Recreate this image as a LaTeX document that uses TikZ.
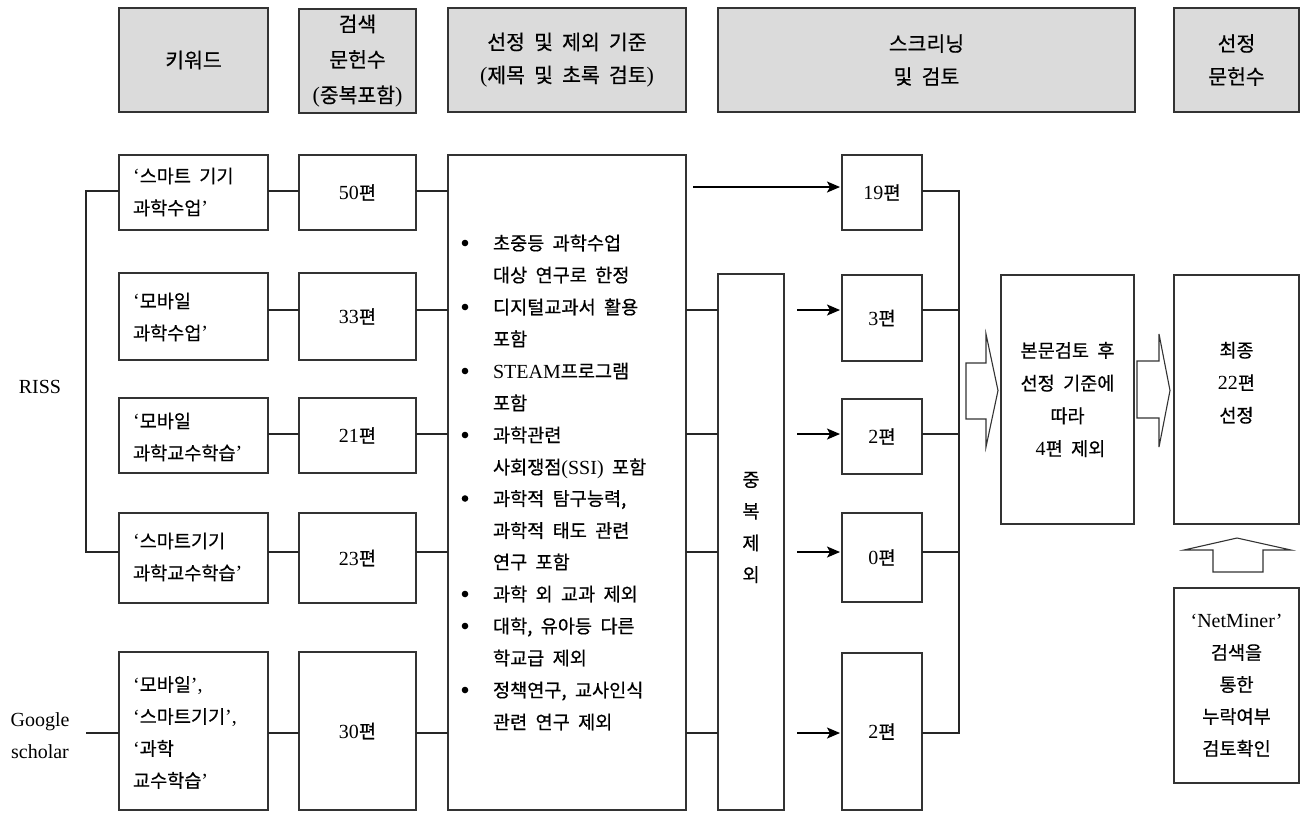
\documentclass[tikz,border=0pt]{standalone}
\usepackage{fontspec}
\setmainfont{Liberation Serif}
\newfontfamily\krf{Noto Sans CJK KR}[Scale=0.93,WordSpace=2,FakeBold=0.5]
\newcommand\hg[1]{{\krf #1}}
\usetikzlibrary{arrows.meta,calc}
\begin{document}
\begin{tikzpicture}[x=1pt,y=-1pt,
  box/.style={draw=black!80, line width=1.1pt, inner sep=0pt, outer sep=0pt, align=center, font=\fontsize{20}{32}\selectfont},
  head/.style={box, fill=black!14, font=\fontsize{22}{33}\selectfont},
  txt/.style={inner sep=0pt, outer sep=0pt, font=\fontsize{20}{32}\selectfont},
  conn/.style={draw=black!85, line width=1.1pt},
  arr/.style={draw=black, line width=1.6pt, shorten >=2pt, -{Stealth[length=13pt,width=11pt,inset=3pt]}},
  hollow/.style={draw=black!80, line width=1.1pt, fill=white, line join=miter},
  bullet/.style={fill=black}
]
\useasboundingbox (0,0) rectangle (1300,812);

% header row
\node[head, minimum width=149, minimum height=104] (hA) at (193.5,60) {\hg{키워드}};
\node[head, minimum width=117, minimum height=104, font=\fontsize{22}{35.5}\selectfont] (hB) at (357.5,61) {\hg{검색}\\\hg{문헌수}\\(\hg{중복포함})};
\node[head, minimum width=238, minimum height=104] (hC) at (567,60) {\hg{선정 및 제외 기준}\\(\hg{제목 및 초록 검토})};
\node[head, minimum width=417, minimum height=104] (hD) at (926.5,60) {\hg{스크리닝}\\\hg{및 검토}};
\node[head, minimum width=125, minimum height=104] (hE) at (1236.5,60) {\hg{선정}\\\hg{문헌수}};

% keyword boxes
\node[box, minimum width=149, minimum height=75]  (k1) at (193.5,192.5) {};
\node[box, minimum width=149, minimum height=87]  (k2) at (193.5,316.5) {};
\node[box, minimum width=149, minimum height=75]  (k3) at (193.5,435.5) {};
\node[box, minimum width=149, minimum height=90]  (k4) at (193.5,558) {};
\node[box, minimum width=149, minimum height=158] (k5) at (193.5,731) {};
\node[txt, anchor=west, align=left] (k1t) at (133,192) {‘\hg{스마트 기기}\\\hg{과학수업}’};
\node[txt, anchor=west, align=left] (k2t) at (133,317) {‘\hg{모바일}\\\hg{과학수업}’};
\node[txt, anchor=west, align=left] (k3t) at (133,437) {‘\hg{모바일}\\\hg{과학교수학습}’};
\node[txt, anchor=west, align=left] (k4t) at (133,557) {‘\hg{스마트기기}\\\hg{과학교수학습}’};
\node[txt, anchor=west, align=left] (k5t) at (133,732.5) {‘\hg{모바일}’,\\‘\hg{스마트기기}’,\\‘\hg{과학}\\\hg{교수학습}’};

% count boxes
\node[box, minimum width=117, minimum height=75]  (n1) at (357.5,192.5) {50\hg{편}};
\node[box, minimum width=117, minimum height=87]  (n2) at (357.5,316.5) {33\hg{편}};
\node[box, minimum width=117, minimum height=75]  (n3) at (357.5,435.5) {21\hg{편}};
\node[box, minimum width=117, minimum height=90]  (n4) at (357.5,558) {23\hg{편}};
\node[box, minimum width=117, minimum height=158] (n5) at (357.5,731) {30\hg{편}};

% sources
\node[txt] (riss) at (40,387) {RISS};
\node[txt, align=center] (gs) at (40,736) {Google\\scholar};

% criteria box
\node[box, minimum width=238, minimum height=655] (crit) at (567,482.5) {};
\foreach \yy in {243,307,371,435,498.5,594,626,690}
  \fill[bullet] (465,\yy) circle (3.3);
\node[txt, anchor=base west] at (493,250)   {\hg{초중등 과학수업}};
\node[txt, anchor=base west] at (493,282)   {\hg{대상 연구로 한정}};
\node[txt, anchor=base west] at (493,314)   {\hg{디지털교과서 활용}};
\node[txt, anchor=base west] at (493,346)   {\hg{포함}};
\node[txt, anchor=base west] at (493,378)   {STEAM\hg{프로그램}};
\node[txt, anchor=base west] at (493,410)   {\hg{포함}};
\node[txt, anchor=base west] at (493,442)   {\hg{과학관련}};
\node[txt, anchor=base west] at (493,474)   {\hg{사회쟁점}(SSI)\hg{ 포함}};
\node[txt, anchor=base west] at (493,505.5) {\hg{과학적 탐구능력,}};
\node[txt, anchor=base west] at (493,537.5) {\hg{과학적 태도 관련}};
\node[txt, anchor=base west] at (493,569)   {\hg{연구 포함}};
\node[txt, anchor=base west] at (493,601)   {\hg{과학 외 교과 제외}};
\node[txt, anchor=base west] at (493,633)   {\hg{대학, 유아등 다른}};
\node[txt, anchor=base west] at (493,665)   {\hg{학교급 제외}};
\node[txt, anchor=base west] at (493,697)   {\hg{정책연구, 교사인식}};
\node[txt, anchor=base west] at (493,729)   {\hg{관련 연구 제외}};

% dedup box
\node[box, minimum width=66, minimum height=536] (dedup) at (751,542) {};
\node[txt, align=center, font=\fontsize{20}{31.7}\selectfont] (dedupt) at (751,527.5) {\hg{중}\\\hg{복}\\\hg{제}\\\hg{외}};

% result boxes
\node[box, minimum width=80, minimum height=75]  (r1) at (882,192.5) {19\hg{편}};
\node[box, minimum width=80, minimum height=86]  (r2) at (882,318) {3\hg{편}};
\node[box, minimum width=80, minimum height=75]  (r3) at (882,436.5) {2\hg{편}};
\node[box, minimum width=80, minimum height=89]  (r4) at (882,557.5) {0\hg{편}};
\node[box, minimum width=80, minimum height=157] (r5) at (882,731.5) {2\hg{편}};

% review / final / netminer
\node[box, minimum width=133, minimum height=249, font=\fontsize{20}{32.7}\selectfont] (review) at (1067.5,399.5) {\hg{본문검토 후}\\\hg{선정 기준에}\\\hg{따라}\\\hspace{6pt}4\hg{편 제외}};
\node[box, minimum width=125, minimum height=249] (final) at (1236.5,399.5) {};
\node[txt, align=center, font=\fontsize{20}{32.5}\selectfont] (finalt) at (1236.5,382.7) {\hg{최종}\\22\hg{편}\\\hg{선정}};
\node[box, minimum width=125, minimum height=195] (net) at (1236.5,685.5) {‘NetMiner’\\\hg{검색을}\\\hg{통한}\\\hg{누락여부}\\\hg{검토확인}};

% connectors
\coordinate (row1) at (0,191);
\coordinate (row2) at (0,310);
\coordinate (row3) at (0,434);
\coordinate (row4) at (0,552);
\coordinate (row5) at (0,733);
\coordinate (lbus) at (86,0);
\coordinate (rbus) at (959,0);
\coordinate (a1) at (693,187);

\draw[conn] (k1.west|-row1) -- (lbus|-row1) -- (lbus|-row4) -- (k4.west|-row4);
\draw[conn] (lbus|-row5) -- (k5.west|-row5);
\foreach \i in {1,...,5} {
  \draw[conn] (k\i.east|-row\i) -- (n\i.west|-row\i);
  \draw[conn] (n\i.east|-row\i) -- (crit.west|-row\i);
}
\foreach \i in {2,...,5} {
  \draw[conn] (crit.east|-row\i) -- (dedup.west|-row\i);
  \draw[arr] ($(dedup.east|-row\i)+(13,0)$) -- (r\i.west|-row\i);
}
\draw[arr] (a1) -- (r1.west|-a1);
\draw[conn] (r1.east|-row1) -- (rbus|-row1) -- (rbus|-row5) -- (r5.east|-row5);
\foreach \i in {2,3,4} \draw[conn] (r\i.east|-row\i) -- (rbus|-row\i);

% hollow block arrows
\draw[hollow] (966,363) -- (986,363) -- (986,334) -- (998,390.5) -- (986,447) -- (986,419) -- (966,419) -- cycle;
\draw[hollow] (1137,361) -- (1159,361) -- (1159,334) -- (1170,390.5) -- (1159,447) -- (1159,418) -- (1137,418) -- cycle;
\draw[hollow] (1213,572) -- (1213,550) -- (1184,550) -- (1237,538) -- (1291,550) -- (1263,550) -- (1263,572) -- cycle;
\end{tikzpicture}
\end{document}
